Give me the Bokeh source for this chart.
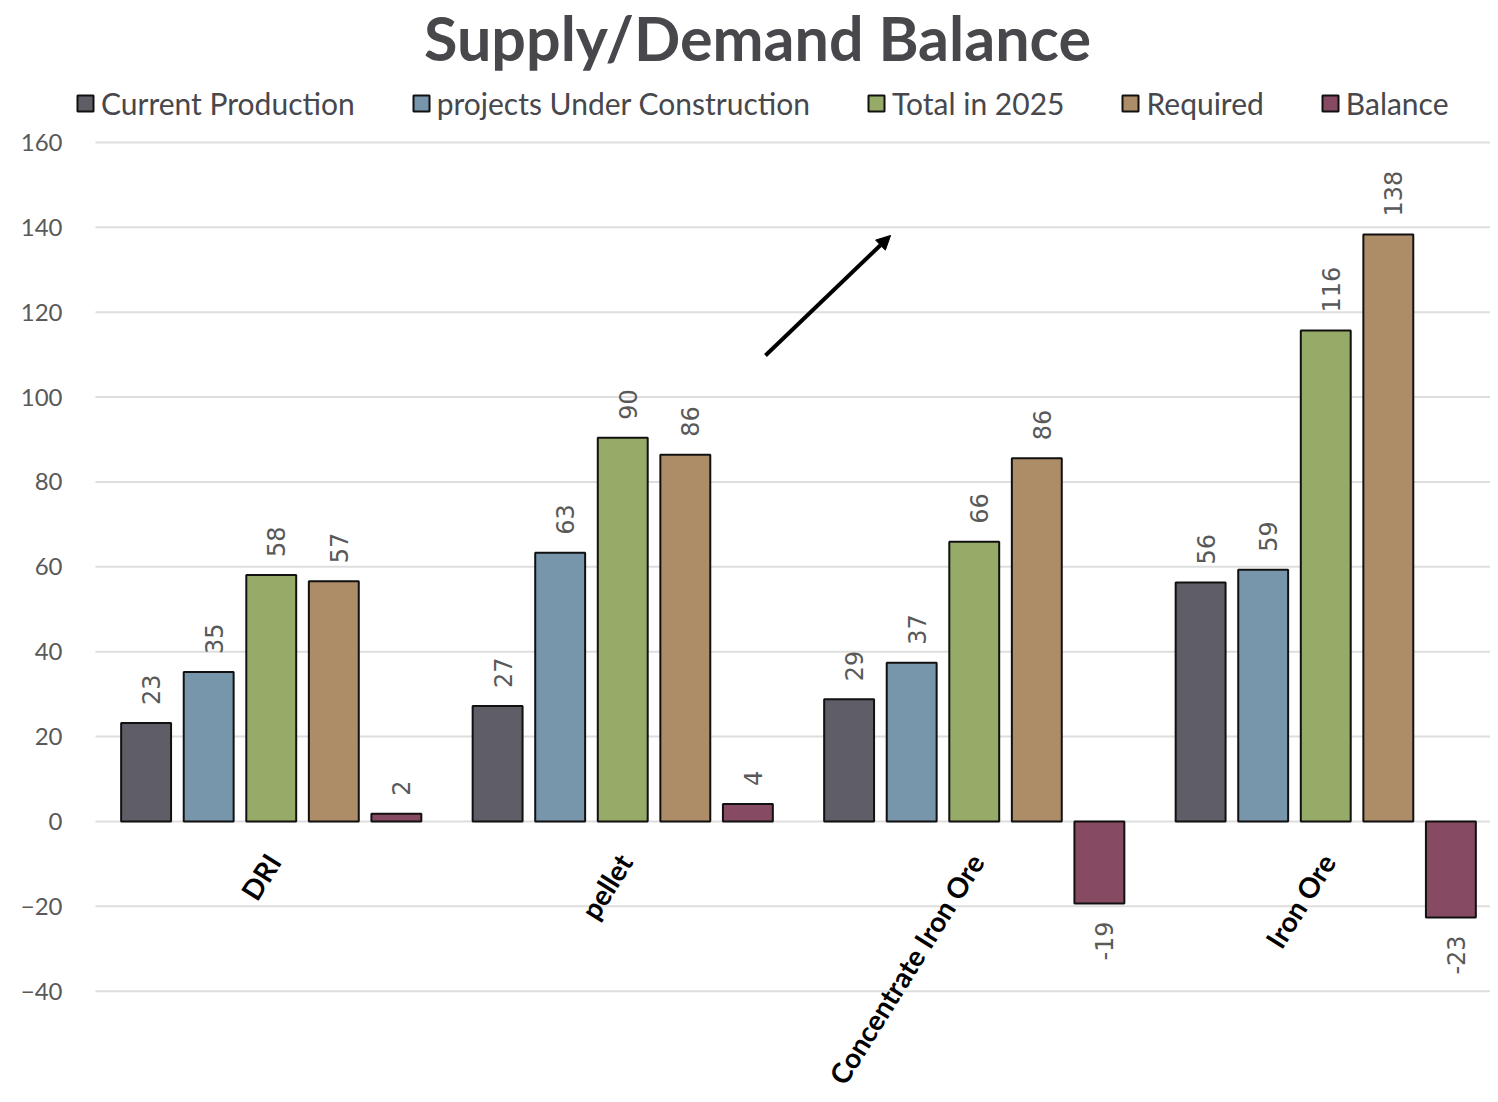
import math
from bokeh.plotting import figure
from bokeh.models import ColumnDataSource, Range1d, FixedTicker, Legend, LegendItem, Arrow, NormalHead, Label
from bokeh.core.properties import value
from bokeh.embed import file_html
from bokeh.resources import INLINE

categories = ["DRI", "pellet", "Concentrate Iron Ore", "Iron Ore"]
series_names = ["Current Production", "projects Under Construction", "Total in 2025", "Required", "Balance"]
current_production = [23.2, 27.2, 28.8, 56.3]
under_construction = [35.2, 63.3, 37.4, 59.3]
total_2025 = [58.1, 90.4, 65.9, 115.7]
required = [56.6, 86.4, 85.6, 138.3]
balance = [1.8, 4.1, -19.3, -22.6]
y_ticks = [-40, -20, 0, 20, 40, 60, 80, 100, 120, 140, 160]
colors = ["#5f5e66", "#7795ab", "#96ab68", "#ad8d67", "#864a62"]
chart_title = "Supply/Demand Balance"

series_values = [current_production, under_construction, total_2025, required, balance]

W, H = 1490, 1094
X_START, X_END = -0.0711, 3.9687
p = figure(width=W, height=H, output_backend="svg", toolbar_location=None, title=None,
           x_range=Range1d(X_START, X_END), y_range=Range1d(-64.33, 193.46),
           min_border_left=70, min_border_right=0, min_border_bottom=0, min_border_top=0)

p.outline_line_color = None
p.xaxis.visible = False
p.xgrid.visible = False
p.ygrid.visible = False
p.yaxis.ticker = FixedTicker(ticks=y_ticks)
p.yaxis.axis_line_color = None
p.yaxis.major_tick_line_color = None
p.yaxis.minor_tick_line_color = None
p.yaxis.major_label_standoff = 2
p.yaxis.major_label_text_font = "Lato"
p.yaxis.major_label_text_font_size = "24px"
p.yaxis.major_label_text_color = "#595959"

# horizontal gridlines starting at the category area
p.segment(x0=[0] * len(y_ticks), x1=[X_END] * len(y_ticks), y0=y_ticks, y1=y_ticks,
          line_color="#dedede", line_width=2)

step = 0.178
bar_w = 0.142
renderers = []
for i, (name, vals, col) in enumerate(zip(series_names, series_values, colors)):
    xs = [c + 0.5 + (i - 2) * step for c in range(len(categories))]
    src = ColumnDataSource(dict(x=xs, top=vals))
    r = p.vbar(x="x", top="top", bottom=0, width=bar_w, source=src,
               fill_color=col, line_color="#111111", line_width=2)
    renderers.append(r)
    pos = [(x, v) for x, v in zip(xs, vals) if v >= 0]
    neg = [(x, v) for x, v in zip(xs, vals) if v < 0]
    if pos:
        p.text(x=[a for a, _ in pos], y=[b for _, b in pos], text=[f"{b:.0f}" for _, b in pos],
               angle=math.pi / 2, text_align="left", text_baseline="middle",
               x_offset=5, y_offset=-18, text_font=value("DejaVu Sans"),
               text_font_size="24px", text_color="#595959")
    if neg:
        p.text(x=[a for a, _ in neg], y=[b for _, b in neg], text=[f"{b:.0f}" for _, b in neg],
               angle=math.pi / 2, text_align="right", text_baseline="middle",
               x_offset=5, y_offset=18, text_font=value("DejaVu Sans"),
               text_font_size="24px", text_color="#595959")

# category labels
p.text(x=[c + 0.5 for c in range(len(categories))], y=[0] * len(categories), text=categories,
       angle=math.radians(58), text_align="right", text_baseline="middle",
       x_offset=2, y_offset=35, text_font=value("Lato"), text_font_style="bold",
       text_font_size="28px", text_color="#000000")

# annotation arrow
p.add_layout(Arrow(end=NormalHead(size=14, fill_color="black", line_color="black"),
                   x_start=1.906, y_start=109.8, x_end=2.262, y_end=138.1,
                   line_width=4, line_color="black"))

# title
p.add_layout(Label(x=757 - 70, y=H - 37, x_units="screen", y_units="screen", text=chart_title,
                   text_align="center", text_baseline="middle", text_font="Lato",
                   text_font_size="61px", text_font_style="bold", text_color="#47474c"))

legend = Legend(items=[LegendItem(label=n, renderers=[r]) for n, r in zip(series_names, renderers)],
                orientation="horizontal", location=(5, H - 121), spacing=56, label_standoff=6,
                glyph_width=20, glyph_height=20, label_height=36, label_text_font="Lato",
                label_text_font_size="30px", label_text_baseline="middle",
                label_text_color="#47474c", border_line_color=None, background_fill_alpha=0,
                padding=0, margin=0)
p.add_layout(legend, "center")

open("out.html", "w").write(file_html(p, INLINE))
